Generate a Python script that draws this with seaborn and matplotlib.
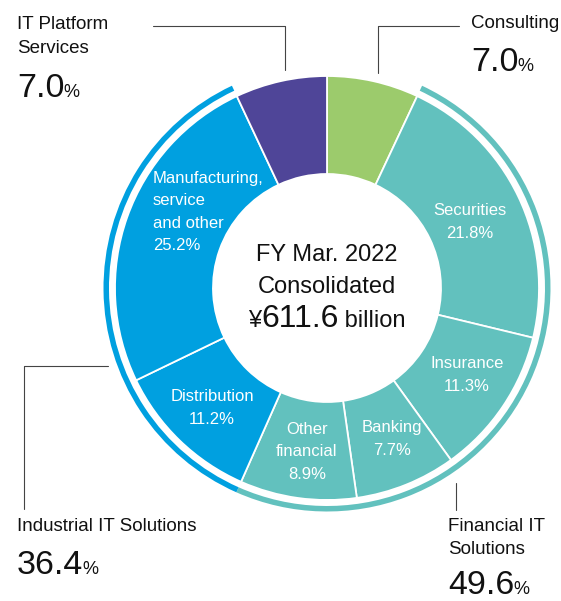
import numpy as np
import matplotlib
matplotlib.use("Agg")
import matplotlib.pyplot as plt
import seaborn as sns

sns.set_theme(style="white")
plt.rcParams['font.family'] = ['Liberation Sans', 'DejaVu Sans']

### donnees
segments = ["Consulting", "Securities", "Insurance", "Banking", "Other financial",
            "Distribution", "Manufacturing, service and other", "IT Platform Services"]
valeurs = [7.0, 21.8, 11.3, 7.7, 8.9, 11.2, 25.2, 7.0]
groupe = ["consult", "fin", "fin", "fin", "fin", "ind", "ind", "itp"]

labels_interieurs = ["", "Securities\n21.8%", "Insurance\n11.3%", "Banking\n7.7%",
                     "Other\nfinancial\n8.9%", "Distribution\n11.2%",
                     "Manufacturing,\nservice\nand other\n25.2%", ""]

groupes = ["consult", "fin", "ind", "itp"]
groupes_pct = ["7.0", "49.6", "36.4", "7.0"]

couleurs = {"consult": "#9ccb6c", "fin": "#62c1be", "ind": "#00a0e0", "itp": "#4f4598"}

W, H = 561, 601
CX, CY = 327, 601 - 288


def Y(y):
    # coordonnees pixel (origine en haut) -> axe
    return H - y


fig = plt.figure(figsize=(W / 100, H / 100), dpi=100)
ax = fig.add_axes([0, 0, 1, 1])
ax.set_aspect("equal")
ax.axis("off")

# donut principal
cols = [couleurs[g] for g in groupe]
ax.pie(valeurs, colors=cols, startangle=90, counterclock=False,
       radius=212, center=(CX, CY),
       wedgeprops=dict(width=98, edgecolor="white", linewidth=1.3))

# anneau exterieur des groupes
somme_groupes = [sum(v for v, g in zip(valeurs, groupe) if g == k) for k in groupes]
anneau_cols = ["none", couleurs["fin"], couleurs["ind"], "none"]
ax.pie(somme_groupes, colors=anneau_cols, startangle=90, counterclock=False,
       radius=223.5, center=(CX, CY), wedgeprops=dict(width=5.5, linewidth=0))
ax.set_xlim(0, W)
ax.set_ylim(0, H)

# etiquettes dans les parts
pos_labels = {1: (470, 222, "center"), 2: (467, 375, "center"), 3: (392, 439, "center"),
              4: (307, 452, "center"), 5: (212, 408, "center"), 6: (153, 212, "left")}
for i, (x, y, ha) in pos_labels.items():
    ax.text(x, Y(y), labels_interieurs[i], color="white", fontsize=12, ha=ha,
            va="center", linespacing=1.62)

# texte central
ax.text(CX, Y(261), "FY Mar. 2022", fontsize=17, ha="center", va="baseline", color="#111111")
ax.text(CX, Y(293), "Consolidated", fontsize=17, ha="center", va="baseline", color="#111111")
t1 = ax.text(0, 0, "¥", fontsize=17)
t2 = ax.text(0, 0, "611.6", fontsize=23)
t3 = ax.text(0, 0, " billion", fontsize=17)
fig.canvas.draw()
r = fig.canvas.get_renderer()
largeurs = [t.get_window_extent(r).width for t in (t1, t2, t3)]
x0 = CX - sum(largeurs) / 2
for t, w in zip((t1, t2, t3), largeurs):
    t.set_position((x0, Y(327)))
    t.set_va("baseline")
    t.set_color("#111111")
    x0 += w

# legendes exterieures
ligne = dict(color="#444444", lw=0.8)
ax.plot([153, 285.5, 285.5], [Y(25.5), Y(25.5), Y(70)], **ligne)
ax.plot([459, 378, 378], [Y(25.5), Y(25.5), Y(73)], **ligne)
ax.plot([108, 24, 24], [Y(366), Y(366), Y(509)], **ligne)
ax.plot([456, 456], [Y(483), Y(510)], **ligne)

noms = {"itp": (17, [(29, "IT Platform"), (53, "Services")], 97),
        "consult": (471, [(28, "Consulting")], 71),
        "ind": (17, [(531, "Industrial IT Solutions")], 574),
        "fin": (448, [(531, "Financial IT"), (554, "Solutions")], 594)}


def pourcentage(x, y, val):
    t = ax.text(x, Y(y), val, fontsize=24.5, va="baseline", ha="left", color="#111111")
    fig.canvas.draw()
    bb = t.get_window_extent(fig.canvas.get_renderer())
    ax.text(x + bb.width - 1, Y(y), "%", fontsize=13, va="baseline", ha="left", color="#111111")


for k, pct in zip(groupes, groupes_pct):
    x, lignes, ybig = noms[k]
    for yb, txt in lignes:
        ax.text(x, Y(yb), txt, fontsize=13.5, va="baseline", ha="left", color="#111111")
    pourcentage(x, ybig, pct)

plt.savefig("out.png", dpi=100)
plt.close()
